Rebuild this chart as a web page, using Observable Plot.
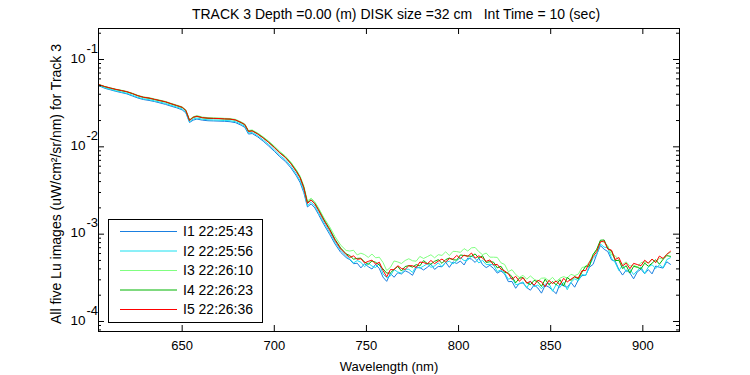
<!DOCTYPE html>
<html><head><meta charset="utf-8">
<script src="https://cdn.jsdelivr.net/npm/d3@7"></script>
<script src="https://cdn.jsdelivr.net/npm/@observablehq/plot@0.6"></script>
<style>
html,body{margin:0;padding:0;background:#fff;}
svg text{white-space:pre;}
</style></head><body><div id="chart"></div>
<script>
const title = "TRACK 3 Depth =0.00 (m) DISK size =32 cm   Int Time = 10 (sec)";
const xLabel = "Wavelength (nm)";
const yLabel = "All five Lu images (uW/cm²/sr/nm) for Track 3";
const seriesNames = ["I1 22:25:43", "I2 22:25:56", "I3 22:26:10", "I4 22:26:23", "I5 22:26:36"];
const seriesColors = ["#1a7fe0", "#19e0f0", "#80ff80", "#00b400", "#ff0000"];

const wavelengths = [
605,608,611,614,617,620,623,626,629,632,635,638,641,644,647,650,652,654,656,658,
661,664,667,670,673,676,679,682,684,686,688,691,694,697,700,703,706,709,712,714,
716,718,720,722,724,727,730,733,736,739,
741,743,745,747,749,751,753,755,757,759,761,763,765,767,769,771,773,775,777,779,
781,783,785,787,789,791,793,795,797,799,801,803,805,807,809,811,813,815,817,819,
821,823,825,827,829,831,833,835,837,839,841,843,845,847,849,851,853,855,857,859,
861,863,865,867,869,871,873,875,877,879,881,883,885,887,889,891,893,895,897,899,
901,903,905,907,909,911,913,915];

const luI1 = [
0.0500,0.0468,0.0450,0.0432,0.0418,0.0404,0.0382,0.0362,0.0348,0.0340,
0.0330,0.0318,0.0306,0.0292,0.0280,0.0265,0.0245,0.0190,0.0202,0.0208,
0.0202,0.0199,0.0198,0.0197,0.0196,0.0194,0.0189,0.0177,0.0167,0.0140,
0.0142,0.0130,0.0116,0.0102,0.00890,0.00770,0.00680,0.00575,0.00465,0.00390,
0.00300,0.00205,0.00222,0.00200,0.00168,0.00128,0.00100,0.000770,0.000620,0.000540,
5.10e-4,4.59e-4,4.65e-4,4.11e-4,4.59e-4,4.24e-4,3.99e-4,4.51e-4,4.04e-4,3.22e-4,
2.88e-4,3.55e-4,3.21e-4,3.62e-4,3.50e-4,3.81e-4,3.64e-4,3.38e-4,4.12e-4,4.14e-4,
3.89e-4,4.17e-4,4.52e-4,3.95e-4,4.27e-4,4.23e-4,4.77e-4,4.17e-4,4.81e-4,4.62e-4,
4.92e-4,4.44e-4,5.32e-4,5.18e-4,4.75e-4,5.30e-4,4.48e-4,4.14e-4,4.40e-4,4.05e-4,
3.58e-4,3.79e-4,3.50e-4,2.86e-4,2.87e-4,2.40e-4,2.74e-4,2.76e-4,2.45e-4,2.28e-4,
2.62e-4,2.42e-4,2.11e-4,2.60e-4,2.48e-4,2.28e-4,2.08e-4,2.69e-4,2.56e-4,2.46e-4,
2.80e-4,2.47e-4,2.99e-4,3.35e-4,3.38e-4,4.18e-4,4.51e-4,5.88e-4,7.39e-4,6.72e-4,
6.32e-4,5.08e-4,4.91e-4,3.94e-4,3.40e-4,3.89e-4,3.59e-4,3.08e-4,3.70e-4,3.97e-4,
3.52e-4,3.93e-4,3.51e-4,4.32e-4,4.18e-4,4.09e-4,4.83e-4,4.51e-4];

const luI2 = [
0.0505,0.0474,0.0456,0.0438,0.0425,0.0410,0.0390,0.0369,0.0355,0.0347,
0.0336,0.0325,0.0314,0.0299,0.0286,0.0272,0.0251,0.0193,0.0208,0.0214,
0.0207,0.0204,0.0203,0.0202,0.0200,0.0199,0.0194,0.0182,0.0172,0.0144,
0.0146,0.0134,0.0120,0.0106,0.00925,0.00800,0.00710,0.00600,0.00488,0.00410,
0.00315,0.00212,0.00232,0.00210,0.00177,0.00135,0.00106,0.000810,0.000655,0.000565,
5.18e-4,4.69e-4,4.98e-4,4.77e-4,4.24e-4,4.66e-4,4.31e-4,4.15e-4,4.62e-4,3.50e-4,
3.17e-4,3.32e-4,3.93e-4,3.69e-4,3.57e-4,3.97e-4,3.96e-4,3.65e-4,4.28e-4,4.09e-4,
4.31e-4,4.58e-4,4.17e-4,4.33e-4,4.69e-4,4.25e-4,4.76e-4,4.90e-4,4.56e-4,4.96e-4,
5.39e-4,4.98e-4,5.04e-4,5.62e-4,5.27e-4,4.68e-4,5.02e-4,4.48e-4,4.51e-4,4.45e-4,
3.73e-4,3.90e-4,3.58e-4,3.05e-4,3.15e-4,2.64e-4,2.69e-4,2.84e-4,2.41e-4,2.89e-4,
2.50e-4,2.62e-4,2.37e-4,2.67e-4,2.75e-4,2.22e-4,2.65e-4,2.45e-4,2.82e-4,2.31e-4,
2.81e-4,3.08e-4,2.93e-4,3.45e-4,3.37e-4,4.34e-4,5.28e-4,5.86e-4,7.72e-4,7.10e-4,
6.98e-4,5.31e-4,4.71e-4,3.83e-4,4.41e-4,3.70e-4,3.96e-4,3.44e-4,3.83e-4,4.22e-4,
3.55e-4,4.21e-4,4.47e-4,4.04e-4,4.46e-4,4.14e-4,5.11e-4,5.38e-4];

const luI3 = [
0.0518,0.0492,0.0474,0.0458,0.0445,0.0431,0.0411,0.0389,0.0373,0.0366,
0.0354,0.0342,0.0331,0.0315,0.0301,0.0287,0.0265,0.0205,0.0221,0.0228,
0.0219,0.0216,0.0215,0.0214,0.0212,0.0211,0.0206,0.0193,0.0183,0.0154,
0.0156,0.0144,0.0130,0.0116,0.0102,0.00885,0.00785,0.00668,0.00545,0.00462,
0.00358,0.00240,0.00258,0.00235,0.00200,0.00153,0.00122,0.000935,0.000750,0.000650,
6.41e-4,6.54e-4,5.78e-4,6.06e-4,5.83e-4,5.42e-4,5.92e-4,5.36e-4,5.45e-4,4.74e-4,
3.83e-4,4.16e-4,4.93e-4,4.81e-4,4.61e-4,4.99e-4,5.23e-4,4.96e-4,4.90e-4,5.56e-4,
5.27e-4,5.53e-4,5.81e-4,5.36e-4,5.82e-4,5.71e-4,6.28e-4,5.69e-4,6.36e-4,6.32e-4,
6.19e-4,6.83e-4,6.41e-4,6.97e-4,7.04e-4,6.30e-4,5.82e-4,6.08e-4,5.45e-4,5.45e-4,
5.42e-4,4.70e-4,4.50e-4,3.72e-4,3.92e-4,3.45e-4,3.19e-4,3.38e-4,3.05e-4,3.32e-4,
3.05e-4,2.91e-4,3.13e-4,3.15e-4,2.93e-4,3.20e-4,2.86e-4,3.13e-4,3.27e-4,3.14e-4,
3.47e-4,3.35e-4,3.49e-4,4.16e-4,4.24e-4,4.81e-4,5.83e-4,6.59e-4,8.34e-4,8.03e-4,
7.38e-4,5.78e-4,5.66e-4,5.08e-4,4.50e-4,4.81e-4,4.31e-4,4.43e-4,4.19e-4,4.73e-4,
4.80e-4,4.72e-4,5.15e-4,4.82e-4,5.28e-4,5.21e-4,5.92e-4,6.18e-4];

const luI4 = [
0.0512,0.0488,0.0470,0.0453,0.0440,0.0426,0.0406,0.0384,0.0368,0.0360,
0.0348,0.0337,0.0326,0.0310,0.0296,0.0282,0.0260,0.0202,0.0217,0.0223,
0.0215,0.0212,0.0211,0.0210,0.0208,0.0207,0.0202,0.0189,0.0179,0.0151,
0.0153,0.0141,0.0127,0.0113,0.00990,0.00860,0.00762,0.00648,0.00528,0.00448,
0.00345,0.00230,0.00248,0.00225,0.00191,0.00146,0.00115,0.000870,0.000695,0.000595,
5.69e-4,5.17e-4,5.28e-4,5.31e-4,4.79e-4,4.51e-4,4.94e-4,4.76e-4,4.42e-4,4.00e-4,
3.58e-4,3.60e-4,3.96e-4,4.27e-4,3.78e-4,4.26e-4,4.36e-4,4.19e-4,4.48e-4,4.33e-4,
4.98e-4,4.61e-4,4.54e-4,4.89e-4,5.10e-4,4.63e-4,5.11e-4,5.33e-4,5.09e-4,5.05e-4,
5.78e-4,5.69e-4,5.63e-4,5.57e-4,5.94e-4,5.31e-4,5.66e-4,4.74e-4,4.84e-4,4.78e-4,
4.11e-4,4.29e-4,3.65e-4,3.58e-4,3.26e-4,2.77e-4,3.14e-4,3.18e-4,2.78e-4,2.64e-4,
2.96e-4,2.84e-4,2.52e-4,3.05e-4,2.64e-4,2.86e-4,2.63e-4,3.01e-4,2.55e-4,3.19e-4,
2.95e-4,3.25e-4,3.06e-4,3.68e-4,4.31e-4,4.30e-4,5.84e-4,6.72e-4,8.53e-4,8.58e-4,
6.83e-4,6.43e-4,4.98e-4,5.01e-4,4.04e-4,4.35e-4,3.59e-4,4.28e-4,4.18e-4,4.00e-4,
4.66e-4,4.29e-4,4.64e-4,5.09e-4,4.53e-4,5.16e-4,5.68e-4,5.57e-4];

const luI5 = [
0.0515,0.0490,0.0472,0.0455,0.0442,0.0428,0.0408,0.0385,0.0370,0.0362,
0.0350,0.0339,0.0328,0.0312,0.0298,0.0284,0.0262,0.0200,0.0218,0.0224,
0.0216,0.0213,0.0212,0.0211,0.0209,0.0208,0.0203,0.0190,0.0180,0.0150,
0.0152,0.0140,0.0126,0.0112,0.00980,0.00850,0.00755,0.00640,0.00520,0.00442,
0.00340,0.00225,0.00245,0.00222,0.00188,0.00143,0.00112,0.000850,0.000680,0.000585,
5.42e-4,5.64e-4,5.15e-4,5.23e-4,4.68e-4,4.88e-4,5.04e-4,4.53e-4,4.77e-4,3.85e-4,
3.24e-4,3.93e-4,3.91e-4,4.35e-4,4.05e-4,3.95e-4,4.35e-4,4.35e-4,4.15e-4,4.79e-4,
4.73e-4,4.56e-4,5.00e-4,4.60e-4,4.91e-4,5.19e-4,4.80e-4,5.25e-4,5.17e-4,5.71e-4,
5.23e-4,5.75e-4,5.56e-4,6.08e-4,5.31e-4,5.65e-4,5.31e-4,4.88e-4,5.07e-4,4.43e-4,
4.51e-4,3.98e-4,3.80e-4,3.52e-4,3.03e-4,3.29e-4,2.89e-4,3.18e-4,2.75e-4,2.88e-4,
2.60e-4,2.96e-4,2.85e-4,2.50e-4,2.95e-4,2.72e-4,2.91e-4,2.64e-4,3.12e-4,2.84e-4,
3.05e-4,3.26e-4,3.15e-4,3.82e-4,3.83e-4,4.75e-4,5.53e-4,6.30e-4,8.16e-4,8.36e-4,
6.76e-4,6.56e-4,5.12e-4,5.40e-4,4.33e-4,4.66e-4,4.02e-4,4.63e-4,4.49e-4,4.35e-4,
5.03e-4,4.64e-4,5.19e-4,4.72e-4,5.61e-4,5.27e-4,5.87e-4,6.37e-4];

const xTicks = [650, 700, 750, 800, 850, 900];
const yMajorTicks = [1e-4, 1e-3, 1e-2, 1e-1];
const yTickExponents = ["-4", "-3", "-2", "-1"];
const yMinorTicks = [8e-5, 9e-5,
  2e-4, 3e-4, 4e-4, 5e-4, 6e-4, 7e-4, 8e-4, 9e-4,
  2e-3, 3e-3, 4e-3, 5e-3, 6e-3, 7e-3, 8e-3, 9e-3,
  2e-2, 3e-2, 4e-2, 5e-2, 6e-2, 7e-2, 8e-2, 9e-2, 2e-1];

const allSeries = [luI1, luI2, luI3, luI4, luI5];
const rows = allSeries.map((vals, s) => wavelengths.map((w, i) => ({wl: w, v: vals[i], name: seriesNames[s]})));

const W = 750, H = 375, mL = 98, mR = 71, mT = 28, mB = 44;
const fw = W - mL - mR, fh = H - mT - mB;
const font = "'Liberation Sans', Arial, Helvetica, sans-serif";

const plot = Plot.plot({
  width: W, height: H,
  marginLeft: mL, marginRight: mR, marginTop: mT, marginBottom: mB,
  style: {fontFamily: font, fontSize: "13px", background: "#fff", color: "#000", overflow: "visible"},
  x: {domain: [604.6, 919.9], axis: null},
  y: {type: "log", domain: [7.68e-5, 0.2265], axis: null},
  marks: [
    ...rows.map((r, s) => Plot.line(r, {x: "wl", y: "v", stroke: seriesColors[s], strokeWidth: 1})),
    Plot.frame({stroke: "#000", strokeWidth: 1}),
    Plot.tickX(xTicks, {x: d => d, insetTop: fh - 6, stroke: "#000"}),
    Plot.tickX(xTicks, {x: d => d, insetBottom: fh - 6, stroke: "#000"}),
    Plot.tickY(yMajorTicks, {y: d => d, insetRight: fw - 6, stroke: "#000"}),
    Plot.tickY(yMajorTicks, {y: d => d, insetLeft: fw - 6, stroke: "#000"}),
    Plot.tickY(yMinorTicks, {y: d => d, insetRight: fw - 3, stroke: "#000"}),
    Plot.tickY(yMinorTicks, {y: d => d, insetLeft: fw - 3, stroke: "#000"}),
    Plot.text(xTicks, {x: d => d, text: d => String(d), frameAnchor: "bottom", lineAnchor: "middle", dy: 14, fontSize: 13}),
    Plot.text(yMajorTicks, {y: d => d, text: () => "10", frameAnchor: "left", lineAnchor: "middle", textAnchor: "end", dx: -13, dy: -1, fontSize: 13.5}),
    Plot.text(yMajorTicks, {y: d => d, text: (d, i) => yTickExponents[i], frameAnchor: "left", lineAnchor: "middle", textAnchor: "start", dx: -12, dy: -11, fontSize: 13}),
    Plot.text([title], {text: d => d, frameAnchor: "top", lineAnchor: "middle", textAnchor: "middle", dy: -14, dx: 7, fontSize: 14}),
    Plot.text([xLabel], {text: d => d, frameAnchor: "bottom", lineAnchor: "middle", textAnchor: "middle", dy: 35, fontSize: 13}),
    Plot.text([yLabel], {text: d => d, frameAnchor: "left", lineAnchor: "middle", textAnchor: "middle", dx: -42, dy: 4, rotate: -90, fontSize: 14})
  ]
});

// legend box
const svg = d3.select(plot);
const lg = svg.append("g").attr("font-family", font).attr("font-size", 14).attr("text-anchor", "start");
lg.append("rect").attr("x", 108.5).attr("y", 219.5).attr("width", 154).attr("height", 103)
  .attr("fill", "#fff").attr("stroke", "#000");
seriesNames.forEach((n, i) => {
  const y = 231.5 + i * 19.5;
  lg.append("line").attr("x1", 120).attr("x2", 177).attr("y1", y).attr("y2", y)
    .attr("stroke", seriesColors[i]).attr("stroke-width", 1);
  lg.append("text").attr("x", 183).attr("y", y).attr("dy", "0.35em")
    .attr("text-anchor", "start").attr("fill", "#000").text(n);
});

document.getElementById("chart").appendChild(plot);
</script>
</body></html>
